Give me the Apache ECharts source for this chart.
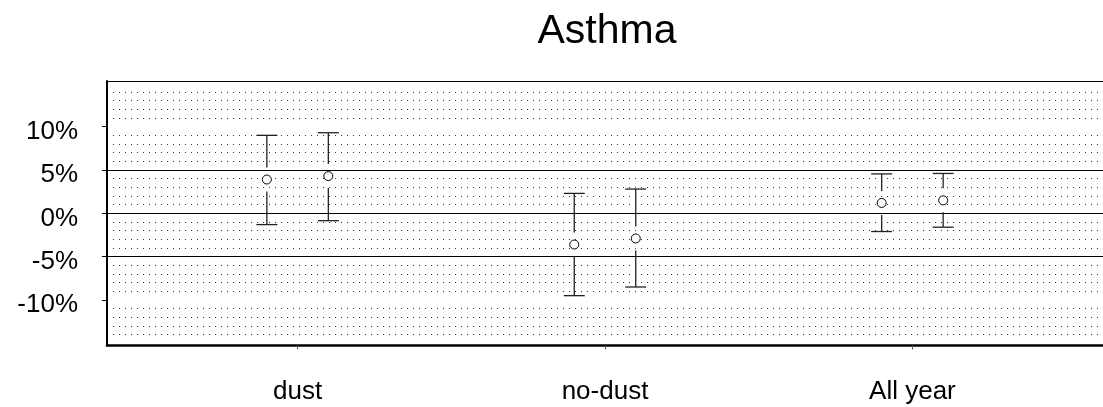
<!DOCTYPE html>
<html>
<head>
<meta charset="utf-8">
<title>Asthma</title>
<script src="https://cdn.jsdelivr.net/npm/echarts@6/dist/echarts.min.js"></script>
<style>
  html, body { margin: 0; padding: 0; background: #fff; }
  #chart { width: 1103px; height: 407px; }
</style>
</head>
<body>
<div id="chart"></div>
<script>
// categories and estimates (percent), two estimates per category
const categories = ["dust", "no-dust", "All year"];
const estimateA = [3.9, -3.6, 1.2];
const lowerA = [-1.3, -9.5, -2.1];
const upperA = [9.0, 2.3, 4.55];
const estimateB = [4.3, -2.9, 1.5];
const lowerB = [-0.85, -8.5, -1.6];
const upperB = [9.3, 2.8, 4.6];
const yTicks = [-10, -5, 0, 5, 10];

const FONT = "Liberation Sans, Arial, sans-serif";
const OFFSET = 0.1; // side-by-side shift inside a category

// build [x, estimate, low, high] rows
function buildRows(est, lo, hi, shift) {
  return categories.map((c, i) => [i + 1 + shift, est[i], lo[i], hi[i]]);
}
const rowsA = buildRows(estimateA, lowerA, upperA, -OFFSET);
const rowsB = buildRows(estimateB, lowerB, upperB, OFFSET);

// error bar with a gap around the point marker
function renderErrorBar(params, api) {
  const x = api.value(0);
  const mid = api.coord([x, api.value(1)]);
  const lo = api.coord([x, api.value(2)]);
  const hi = api.coord([x, api.value(3)]);
  const gap = 12;
  const half = 10.5;
  const style = { stroke: "#222", lineWidth: 1.3 };
  return {
    type: "group",
    children: [
      { type: "line", shape: { x1: hi[0], y1: hi[1], x2: hi[0], y2: mid[1] - gap }, style },
      { type: "line", shape: { x1: lo[0], y1: mid[1] + gap, x2: lo[0], y2: lo[1] }, style },
      { type: "line", shape: { x1: hi[0] - half, y1: hi[1], x2: hi[0] + half, y2: hi[1] }, style },
      { type: "line", shape: { x1: lo[0] - half, y1: lo[1], x2: lo[0] + half, y2: lo[1] }, style },
    ],
  };
}

const chart = echarts.init(document.getElementById("chart"));

const option = {
  animation: false,
  title: {
    text: "Asthma",
    left: 602,
    textAlign: "center",
    top: 6,
    textStyle: { fontFamily: FONT, fontSize: 41, fontWeight: "normal", color: "#000" },
  },
  grid: [
    // frame
    { left: 107, right: 0, top: 81, bottom: 61.5 },
    // data area
    { left: 107, right: 0, top: 83.33, bottom: 63.67 },
  ],
  xAxis: [
    {
      gridIndex: 0,
      type: "value",
      min: 0.38,
      max: 3.62,
      position: "bottom",
      axisLine: { show: true, onZero: false, lineStyle: { color: "#000", width: 2.5 } },
      axisTick: { show: true, customValues: [1, 2, 3], length: 4, lineStyle: { color: "#555" } },
      axisLabel: {
        customValues: [1, 2, 3],
        formatter: (v) => categories[Math.round(v) - 1],
        fontFamily: FONT,
        fontSize: 26,
        color: "#000",
        margin: 33,
      },
      splitLine: { show: false },
    },
    {
      gridIndex: 0,
      type: "value",
      min: 0.38,
      max: 3.62,
      position: "top",
      axisLine: { show: true, onZero: false, lineStyle: { color: "#000", width: 1.2 } },
      axisTick: { show: false },
      axisLabel: { show: false },
      splitLine: { show: false },
    },
    {
      gridIndex: 1,
      type: "value",
      min: 0.38,
      max: 3.62,
      show: false,
    },
  ],
  yAxis: [
    {
      gridIndex: 0,
      type: "value",
      min: -15,
      max: 15,
      axisLine: { show: true, onZero: false, lineStyle: { color: "#000", width: 2 } },
      axisTick: { show: false },
      axisLabel: { show: false },
      splitLine: { show: false },
    },
    {
      gridIndex: 1,
      type: "value",
      min: -15,
      max: 15,
      interval: 5,
      axisLine: { show: false, onZero: false },
      axisTick: {
        show: true,
        customValues: yTicks,
        length: 5,
        lineStyle: { color: "#000" },
      },
      axisLabel: {
        customValues: yTicks,
        formatter: (v) => v + "%",
        fontFamily: FONT,
        fontSize: 26,
        color: "#000",
        margin: 29,
        verticalAlign: "top",
        lineHeight: 10,
      },
      splitLine: {
        show: true,
        showMinLine: false,
        showMaxLine: false,
        lineStyle: { color: "#000", width: 1 },
      },
      minorTick: { show: false, splitNumber: 5 },
      minorSplitLine: {
        show: true,
        lineStyle: { color: "#333", width: 1, type: [1, 5] },
      },
    },
  ],
  series: [
    {
      type: "custom",
      xAxisIndex: 2,
      yAxisIndex: 1,
      renderItem: renderErrorBar,
      data: rowsA,
      z: 3,
    },
    {
      type: "custom",
      xAxisIndex: 2,
      yAxisIndex: 1,
      renderItem: renderErrorBar,
      data: rowsB,
      z: 3,
    },
    {
      type: "scatter",
      xAxisIndex: 2,
      yAxisIndex: 1,
      symbol: "circle",
      symbolSize: 9,
      itemStyle: { color: "#fff", borderColor: "#000", borderWidth: 1, opacity: 1 },
      data: rowsA.map((r) => [r[0], r[1]]),
      z: 4,
    },
    {
      type: "scatter",
      xAxisIndex: 2,
      yAxisIndex: 1,
      symbol: "circle",
      symbolSize: 9,
      itemStyle: { color: "#fff", borderColor: "#000", borderWidth: 1, opacity: 1 },
      data: rowsB.map((r) => [r[0], r[1]]),
      z: 4,
    },
  ],
};

chart.setOption(option);
</script>
</body>
</html>
